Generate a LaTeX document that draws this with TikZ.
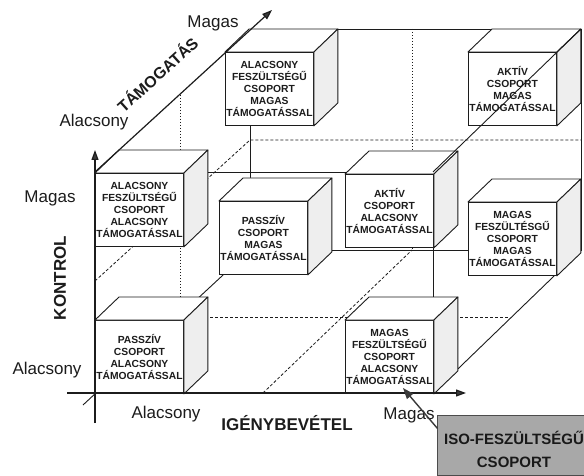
\documentclass[tikz,border=0pt]{standalone}
\usepackage{fontspec}
\setmainfont{Liberation Sans}
\usetikzlibrary{arrows.meta,calc}
\definecolor{inkc}{HTML}{1C1C1C}
\definecolor{sideg}{HTML}{EEEEEE}
\definecolor{isog}{HTML}{A8A8A8}
\definecolor{arrg}{HTML}{3A3A3A}
\newcommand{\boxfont}{\fontsize{10.3}{12.2}\selectfont\bfseries}
\newcommand{\lblfont}{\fontsize{17}{20}\selectfont}
\newcommand{\mycube}[4]{%
  \node[cubeface, anchor=north west] (#1) at (#2,#3) {#4};
  \filldraw[cubetop] (#1.north west) -- ++(24,-23) -- ($(#1.north east)+(24,-23)$) -- (#1.north east) -- cycle;
  \filldraw[cubeside] (#1.north east) -- ++(24,-23) -- ($(#1.south east)+(24,-23)$) -- (#1.south east) -- cycle;
}
\tikzset{
  edge/.style={draw=inkc, line width=0.9pt},
  dsh/.style={draw=inkc, line width=0.8pt, dash pattern=on 3pt off 2pt},
  dot/.style={draw=inkc, line width=0.8pt, dash pattern=on 1.4pt off 1.6pt},
  axis/.style={draw=inkc, line width=1.2pt, -{Triangle[length=10pt,width=7pt,fill=arrg]}},
  cubeface/.style={draw=inkc, line width=0.9pt, fill=white, rectangle, inner sep=0pt,
    minimum width=88pt, minimum height=73pt, text width=88pt, align=center,
    font=\boxfont, text=inkc},
  cubetop/.style={draw=inkc, line width=0.9pt, fill=white, line join=round},
  cubeside/.style={draw=inkc, line width=0.9pt, fill=sideg, line join=round},
  lbl/.style={font=\lblfont, text=inkc, inner sep=0pt},
  blbl/.style={font=\lblfont\bfseries, text=inkc, inner sep=0pt},
  isobox/.style={draw=black!70, line width=1pt, fill=isog, minimum width=154pt, minimum height=60pt, inner sep=0pt},
  isotxt/.style={font=\fontsize{15}{18}\selectfont\bfseries, text=black!90, align=center, inner sep=0pt},
  ptr/.style={draw=arrg, line width=1.4pt, -{Triangle[length=11pt,width=8pt,fill=arrg]}}
}
\begin{document}
\begin{tikzpicture}[x=1pt,y=-1pt]
\useasboundingbox (0,0) rectangle (584,476);
\clip (0,0) rectangle (584,476);
\fill[white] (0,0) rectangle (584,476);

% big cube corners
\coordinate (ftl) at (95,172);
\coordinate (ftr) at (433,172);
\coordinate (fbl) at (95,393);
\coordinate (fbr) at (433,393);
\coordinate (btl) at (250,29);
\coordinate (btr) at (581,29);
\coordinate (bbl) at (250,250);
\coordinate (bbr) at (581,250);
% axis ends
\coordinate (ytip) at (95,150);
\coordinate (ybot) at (95,423);
\coordinate (xtip) at (466,393);
\coordinate (xleft) at (67,393);
\coordinate (ztip) at (272,10);
\coordinate (ztail) at (83,405);
% mid lines
\coordinate (lmF) at (95,281);
\coordinate (lmB) at (250,140);
\coordinate (bmR) at (581,140);
\coordinate (bvT) at (412,29);
\coordinate (bvB) at (412,250);
\coordinate (lvT) at (180,95);
\coordinate (lvB) at (180,317);
\coordinate (bhR) at (510,317);
\coordinate (bdF) at (263,393);
\coordinate (bdB) at (412,250);

% hidden / dashed grid lines
\draw[dsh] (lmF) -- (lmB) -- (bmR);
\draw[dot] (bvT) -- (bvB);
\draw[dot] (lvT) -- (lvB);
\draw[dsh] (lvB) -- (bhR);
\draw[dsh] (bdF) -- (bdB);

% big cube edges behind the boxes
\draw[edge] (ftl) -- (ftr) -- (fbr);
\draw[edge] (btl) -- (btr) -- (bbr) -- (bbl) -- cycle;
\draw[edge] (fbr) -- (bbr);
\draw[edge] (ztail) -- (bbl);

% boxes (back row first)
\mycube{c1}{225}{52}{ALACSONY\\FESZÜLTSÉGŰ\\CSOPORT\\MAGAS\\TÁMOGATÁSSAL}
\mycube{c2}{468}{52}{AKTÍV\\CSOPORT\\MAGAS\\TÁMOGATÁSSAL}
\mycube{c4}{219}{201}{PASSZÍV\\CSOPORT\\MAGAS\\TÁMOGATÁSSAL}
\mycube{c6}{468}{202}{MAGAS\\FESZÜLTÉSGŰ\\CSOPORT\\MAGAS\\TÁMOGATÁSSAL}
\mycube{c3}{95}{173}{ALACSONY\\FESZÜLTSÉGŰ\\CSOPORT\\ALACSONY\\TÁMOGATÁSSAL}
\mycube{c5}{345}{174}{AKTÍV\\CSOPORT\\ALACSONY\\TÁMOGATÁSSAL}
\mycube{c7}{95}{320}{PASSZÍV\\CSOPORT\\ALACSONY\\TÁMOGATÁSSAL}
\mycube{c8}{345}{320}{MAGAS\\FESZÜLTSÉGŰ\\CSOPORT\\ALACSONY\\TÁMOGATÁSSAL}

% edge drawn over the top-right box
\draw[edge] (ftr) -- (btr);

% axes
\draw[axis] (ybot) -- (ytip);
\draw[axis] (xleft) -- (xtip);
\draw[axis] (ftl) -- (ztip);

% labels
\node[lbl, anchor=base] (mtop) at (213,28) {Magas};
\node[lbl, anchor=base] (atop) at (94,127) {Alacsony};
\node[font=\fontsize{16}{19}\selectfont\bfseries, text=inkc, inner sep=0pt, rotate=42] (tam) at (157,74) {TÁMOGATÁS};
\node[lbl, anchor=base] (mleft) at (50,202) {Magas};
\node[blbl, rotate=90] (kon) at (60,278) {KONTROL};
\node[lbl, anchor=base] (aleft) at (47,374) {Alacsony};
\node[lbl, anchor=base] (abot) at (166,418) {Alacsony};
\node[blbl, anchor=base] (igeny) at (287,430) {IGÉNYBEVÉTEL};
\node[lbl, anchor=base] (mbot) at (409,419) {Magas};

% ISO box and pointer
\node[isobox] (iso) at (514,445) {};
\node[isotxt] (isot) at (514,449) {ISO-FESZÜLTSÉGŰ\\[5pt]CSOPORT};
\coordinate (isotgt) at (403,388);
\draw[ptr] ($(iso.north west)+(1,14)$) -- (isotgt);
\end{tikzpicture}
\end{document}
